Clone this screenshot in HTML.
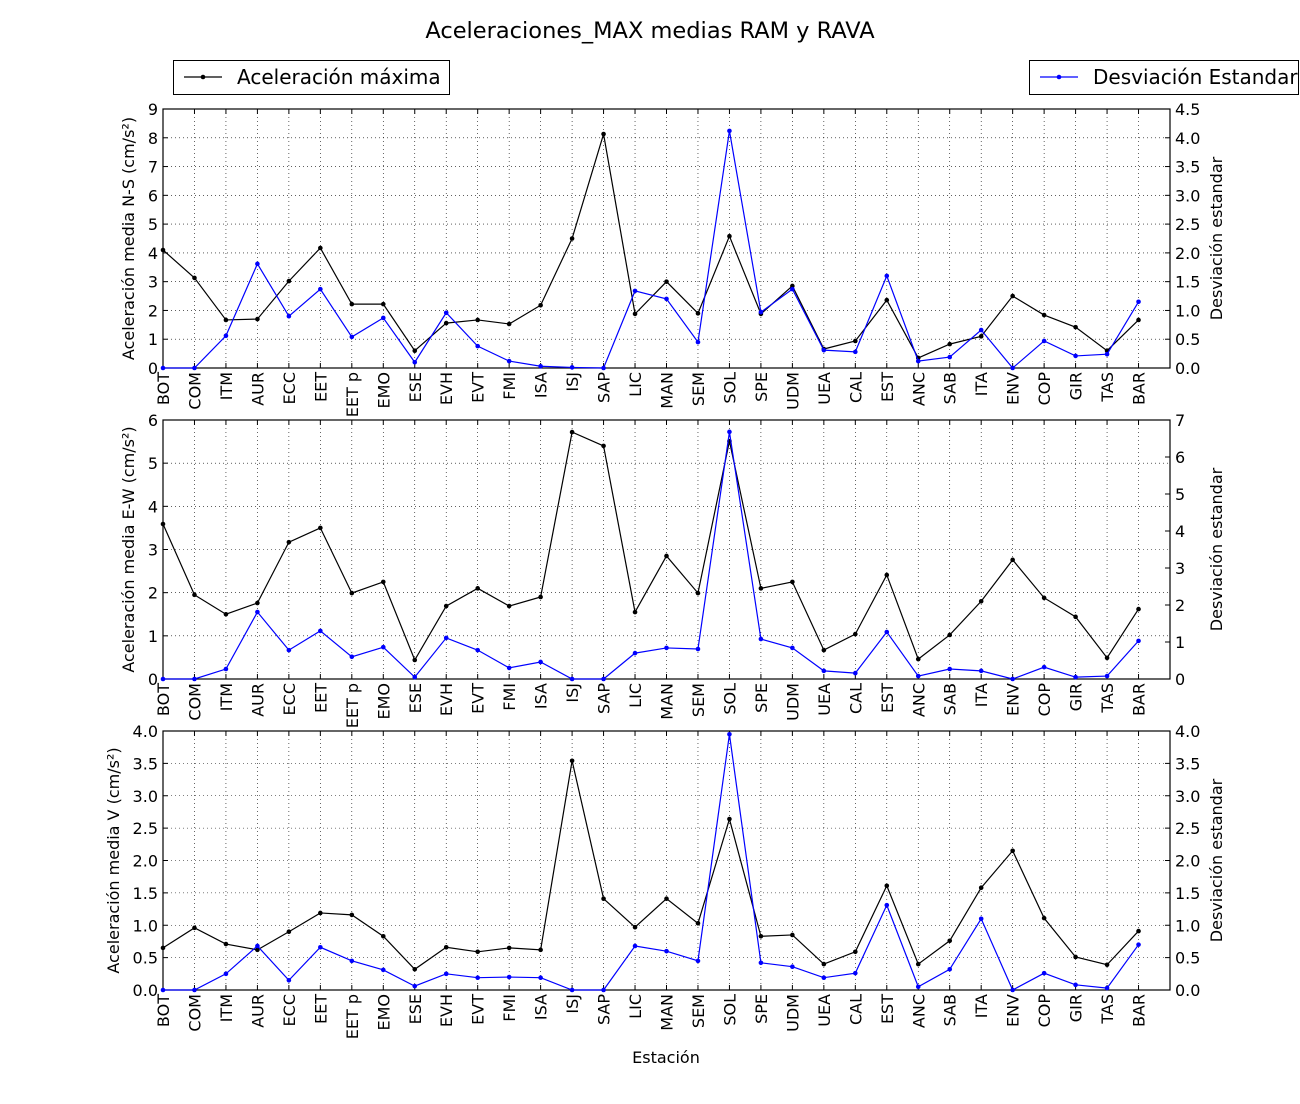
<!DOCTYPE html>
<html><head><meta charset="utf-8"><style>
body{margin:0;background:#fff;font-family:"DejaVu Sans","Liberation Sans",sans-serif;}
svg text{font-family:"DejaVu Sans","Liberation Sans",sans-serif;}
</style></head><body>
<svg id="chart" width="1300" height="1100" xmlns="http://www.w3.org/2000/svg"></svg>
<script>
const stations=["BOT","COM","ITM","AUR","ECC","EET","EET p","EMO","ESE","EVH","EVT","FMI","ISA","ISJ","SAP","LIC","MAN","SEM","SOL","SPE","UDM","UEA","CAL","EST","ANC","SAB","ITA","ENV","COP","GIR","TAS","BAR"];
const nsMax=[4.1,3.13,1.67,1.7,3.02,4.17,2.22,2.22,0.6,1.56,1.67,1.53,2.18,4.5,8.13,1.88,3.0,1.9,4.58,1.88,2.85,0.66,0.94,2.36,0.35,0.83,1.1,2.5,1.84,1.42,0.6,1.67];
const nsStd=[0,0,0.56,1.81,0.9,1.37,0.54,0.87,0.1,0.96,0.38,0.12,0.03,0.01,0,1.34,1.2,0.45,4.12,0.97,1.37,0.31,0.28,1.6,0.12,0.19,0.66,0,0.47,0.21,0.24,1.15];
const ewMax=[3.59,1.95,1.5,1.76,3.17,3.5,1.99,2.25,0.44,1.69,2.1,1.69,1.9,5.72,5.4,1.55,2.85,1.99,5.51,2.1,2.25,0.67,1.04,2.41,0.46,1.02,1.8,2.76,1.88,1.44,0.49,1.62];
const ewStd=[0,0,0.27,1.81,0.78,1.3,0.6,0.86,0.05,1.11,0.78,0.3,0.46,0,0,0.7,0.84,0.81,6.68,1.08,0.84,0.22,0.16,1.27,0.08,0.27,0.22,0,0.32,0.05,0.08,1.03];
const vMax=[0.65,0.96,0.71,0.62,0.9,1.19,1.16,0.83,0.32,0.66,0.59,0.65,0.62,3.54,1.41,0.97,1.41,1.03,2.64,0.83,0.85,0.4,0.59,1.61,0.4,0.76,1.58,2.15,1.11,0.51,0.39,0.91];
const vStd=[0,0,0.25,0.68,0.15,0.66,0.45,0.31,0.06,0.25,0.19,0.2,0.19,0,0,0.68,0.6,0.45,3.95,0.42,0.36,0.19,0.26,1.31,0.05,0.32,1.1,0,0.26,0.08,0.03,0.7];
const leftTicksNS=[0,1,2,3,4,5,6,7,8,9];
const rightTicksNS=["0.0","0.5","1.0","1.5","2.0","2.5","3.0","3.5","4.0","4.5"];
const leftTicksEW=[0,1,2,3,4,5,6];
const rightTicksEW=["0","1","2","3","4","5","6","7"];
const leftTicksV=["0.0","0.5","1.0","1.5","2.0","2.5","3.0","3.5","4.0"];
const rightTicksV=["0.0","0.5","1.0","1.5","2.0","2.5","3.0","3.5","4.0"];

const svg=document.getElementById('chart');
const NS='http://www.w3.org/2000/svg';
function mk(tag,attrs,parent){const e=document.createElementNS(NS,tag);for(const k in attrs)e.setAttribute(k,attrs[k]);(parent||svg).appendChild(e);return e;}
const X0=163,X1=1170,XMAX=32;
const xs=i=>X0+(X1-X0)*i/XMAX;

function panel(key,top,bottom,lmax,rmax,lt,rt,lmarks,rmarks,ylabel,lx){
  const g=mk('g',{});
  
  
  const yl=v=>bottom-(bottom-top)*v/lmax;
  const yr=v=>bottom-(bottom-top)*v/rmax;
  lt.forEach(t=>{const v=parseFloat(t);const y=yl(v);
    const l=mk('line',{x1:X0,x2:X1,y1:y,y2:y,stroke:'#000','stroke-width':0.6,'stroke-dasharray':'1,3'},g);
    
    mk('line',{x1:X0,x2:X0+5,y1:y,y2:y,stroke:'#000'},g);
    const tx=mk('text',{x:X0-5,y:y+6,'text-anchor':'end','font-size':16},g);tx.textContent=t;
    
  });
  rt.forEach(t=>{const v=parseFloat(t);const y=yr(v);
    mk('line',{x1:X1-5,x2:X1,y1:y,y2:y,stroke:'#000'},g);
    const tx=mk('text',{x:X1+5,y:y+6,'font-size':16},g);tx.textContent=t;
    
  });
  stations.forEach((s,i)=>{const x=xs(i);
    mk('line',{x1:x,x2:x,y1:top,y2:bottom,stroke:'#000','stroke-width':0.6,'stroke-dasharray':'1,3'},g);
    mk('line',{x1:x,x2:x,y1:bottom,y2:bottom-5,stroke:'#000'},g);
    mk('line',{x1:x,x2:x,y1:top,y2:top+5,stroke:'#000'},g);
    const tx=mk('text',{x:0,y:0,'text-anchor':'end','font-size':16,transform:`translate(${x+6},${bottom+4}) rotate(-90)`},g);tx.textContent=s;
    
  });
  mk('rect',{x:X0,y:top,width:X1-X0,height:bottom-top,fill:'none',stroke:'#000','stroke-width':1.2},g);
  function series(vals,f,color,name){
    const p=mk('polyline',{points:vals.map((v,i)=>xs(i)+','+f(v)).join(' '),fill:'none',stroke:color,'stroke-width':1.2},g);
    
    vals.forEach((v,i)=>{const c=mk('circle',{cx:xs(i),cy:f(v),r:2.3,fill:color},g);
      });
  }
  series(lmarks,yl,'#000',key+'-max');
  series(rmarks,yr,'#0000ff',key+'-std');
  const cy=(top+bottom)/2;
  const a=mk('text',{x:0,y:0,'text-anchor':'middle','font-size':16,transform:`translate(${lx},${cy}) rotate(-90)`},g);a.textContent=ylabel;
  
  const b=mk('text',{x:0,y:0,'text-anchor':'middle','font-size':16,transform:`translate(${X1+52},${cy}) rotate(-90)`},g);b.textContent='Desviación estandar';
  
}
panel('ns',109,368,9,4.5,leftTicksNS,rightTicksNS,nsMax,nsStd,'Aceleración media N-S (cm/s²)',134);
panel('ew',420,679,6,7,leftTicksEW,rightTicksEW,ewMax,ewStd,'Aceleración media E-W (cm/s²)',134);
panel('v',731,990,4,4,leftTicksV,rightTicksV,vMax,vStd,'Aceleración media V (cm/s²)',119);

const title=mk('text',{x:650,y:38,'text-anchor':'middle','font-size':22.5});title.textContent='Aceleraciones_MAX medias RAM y RAVA';

const xt=mk('text',{x:666,y:1063,'text-anchor':'middle','font-size':16});xt.textContent='Estación';


const lg1=mk('g',{});

mk('rect',{x:173.5,y:60.5,width:276,height:34,fill:'#fff',stroke:'#000'},lg1);
mk('line',{x1:184,x2:222,y1:77,y2:77,stroke:'#000','stroke-width':1.2},lg1);
mk('circle',{cx:203,cy:77,r:2.3,fill:'#000'},lg1);
const t1=mk('text',{x:237,y:84,'font-size':20},lg1);t1.textContent='Aceleración máxima';
const lg2=mk('g',{});

mk('rect',{x:1029.5,y:60.5,width:269,height:34,fill:'#fff',stroke:'#000'},lg2);
mk('line',{x1:1040,x2:1078,y1:77,y2:77,stroke:'#0000ff','stroke-width':1.2},lg2);
mk('circle',{cx:1059,cy:77,r:2.3,fill:'#0000ff'},lg2);
const t2=mk('text',{x:1093,y:84,'font-size':20},lg2);t2.textContent='Desviación Estandar';
</script>
</body></html>
